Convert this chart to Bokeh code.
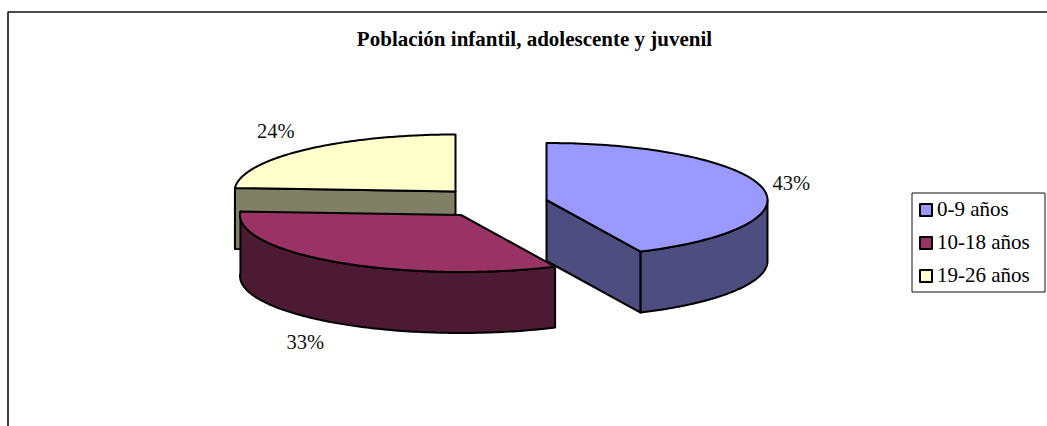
import numpy as np
from bokeh.plotting import figure
from bokeh.models import Range1d, Legend, LegendItem, BoxAnnotation
from bokeh.core.properties import value
from bokeh.embed import file_html
from bokeh.resources import INLINE

TITLE = "Población infantil, adolescente y juvenil"
categories = ["0-9 años", "10-18 años", "19-26 años"]
shares = [43, 33, 24]
top_colors = ["#9999FF", "#993366", "#FFFFCC"]
side_colors = ["#4D4D80", "#4D1A33", "#808066"]

W, H = 1047, 426
FONT = "Liberation Serif"
RX, RY, DEPTH = 221, 57, 61
centres = [(546, 199.5), (460.5, 214.5), (455, 191)]
label_offsets = [(29, -5), (-31.5, 80), (-28.5, -19)]
LW = 2

p = figure(width=W, height=H, x_range=Range1d(0, W), y_range=Range1d(H, 0),
           output_backend="svg", toolbar_location=None, min_border=0,
           margin=0, background_fill_color="white",
           border_fill_color="white", outline_line_color=None)
p.xaxis.visible = False
p.yaxis.visible = False
p.grid.visible = False

# chart frame: only its top and left edges fall inside the window
p.add_layout(BoxAnnotation(left=7.5, top=11.5, right=W + 10, bottom=H + 10,
                           fill_alpha=0, line_color="#111111", line_width=1.6,
                           line_alpha=1))


def arc(c, a0, a1, n=120):
    t = np.radians(np.linspace(a0, a1, n))
    return c[0] + RX * np.sin(t), c[1] - RY * np.cos(t)


edges = np.concatenate([[0], np.cumsum(shares)]) * 3.6
top_renderers = {}


def face(xs, ys, color):
    return p.patch(list(xs), list(ys), fill_color=color, line_color="black",
                   line_width=LW, line_join="round")


for i in [2, 1, 0]:
    c = centres[i]
    a0, a1 = edges[i], edges[i + 1]
    xa, ya = arc(c, a0, a1)
    if i == 0:
        face([c[0], xa[-1], xa[-1], c[0]],
             [c[1], ya[-1], ya[-1] + DEPTH, c[1] + DEPTH], side_colors[i])
        xw, yw = arc(c, 90, a1)
        face(np.r_[xw, xw[::-1]], np.r_[yw, yw[::-1] + DEPTH], side_colors[i])
    elif i == 1:
        xw, yw = arc(c, a0, 270)
        xw = np.r_[xw, xa[-1]]
        yw = np.r_[yw, ya[-1]]
        face(np.r_[xw, xw[::-1]], np.r_[yw, yw[::-1] + DEPTH], side_colors[i])
    else:
        face([xa[0], c[0], c[0], xa[0]],
             [ya[0], c[1], c[1] + DEPTH, ya[0] + DEPTH], side_colors[i])
    top_renderers[i] = face(np.r_[c[0], xa], np.r_[c[1], ya], top_colors[i])

lx, ly, lt = [], [], []
for i, share in enumerate(shares):
    mid = (edges[i] + edges[i + 1]) / 2
    xm, ym = arc(centres[i], mid, mid, 1)
    lx.append(xm[0] + label_offsets[i][0])
    ly.append(ym[0] + label_offsets[i][1])
    lt.append(f"{share}%")
p.text(x=lx, y=ly, text=lt, text_font=value(FONT), text_font_size="20.5px",
       text_align="center", text_baseline="middle", text_color="#111111")

p.text(x=[534], y=[38], text=[TITLE], text_font=value(FONT), text_font_size="21px",
       text_font_style="bold", text_align="center", text_baseline="middle",
       text_color="black")

p.add_layout(BoxAnnotation(left=911.5, right=1044.5, top=192.5, bottom=291.5,
                           fill_color="white", fill_alpha=1,
                           line_color="#111111", line_width=1, line_alpha=1))
legend = Legend(items=[LegendItem(label=c, renderers=[top_renderers[i]])
                       for i, c in enumerate(categories)],
                location=(908, 128), orientation="vertical", margin=0, padding=10,
                spacing=8, glyph_width=15, glyph_height=15, label_height=14,
                label_standoff=4, label_text_font=FONT, label_text_font_size="21px",
                label_text_color="black", border_line_color="black", border_line_alpha=0,
                background_fill_alpha=0, click_policy="none")
p.add_layout(legend, "center")

open("out.html", "w").write(file_html(p, INLINE))
